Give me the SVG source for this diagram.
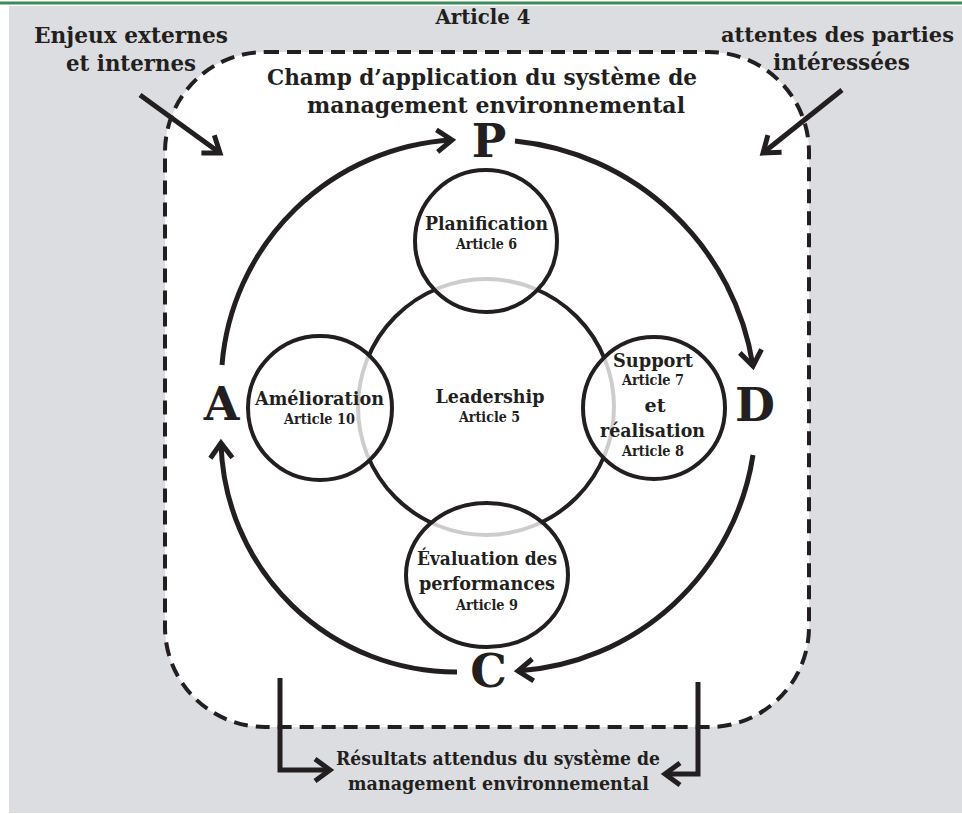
<svg xmlns="http://www.w3.org/2000/svg" width="962" height="814" viewBox="0 0 962 814">
<style>
text{font-family:"DejaVu Serif","Liberation Serif",serif;font-weight:bold;fill:#231f20;}
.big{font-size:23px;}
.t{font-size:18.5px;}
.s{font-size:14px;}
.L{font-size:46px;}
.m{text-anchor:middle;}
.ring{fill:none;stroke:#231f20;stroke-width:4;}
.sm{fill:#fff;fill-opacity:0.78;stroke:#231f20;stroke-width:4;}
.con{fill:none;stroke:#231f20;stroke-width:5;marker-end:url(#ah);}
</style>
<defs>
<marker id="ah" markerUnits="userSpaceOnUse" viewBox="-22 -16 26 32" markerWidth="26" markerHeight="32" refX="0" refY="0" orient="auto" overflow="visible">
<path d="M-15,-11 L0,0 L-15,11" fill="none" stroke="#231f20" stroke-width="5" stroke-linejoin="miter"/>
</marker>
</defs>
<rect x="0" y="0" width="962" height="814" fill="#fff"/>
<rect x="0" y="1.5" width="962" height="3" fill="#3d8c56"/>
<rect x="9" y="6" width="953" height="807" fill="#dcdde0"/>

<g id="scope">
<rect x="165" y="52" width="644" height="675" rx="100" ry="100" fill="#fff" stroke="#231f20" stroke-width="4" stroke-dasharray="14 8"/>
</g>

<g id="labels">
<text class="big m" x="483" y="24" textLength="95" lengthAdjust="spacingAndGlyphs" style="font-size:21px">Article 4</text>
<text class="big" x="34" y="43" textLength="194" lengthAdjust="spacingAndGlyphs">Enjeux externes</text>
<text class="big" x="66" y="71" textLength="130" lengthAdjust="spacingAndGlyphs">et internes</text>
<text class="big" x="721" y="42" textLength="233" lengthAdjust="spacingAndGlyphs" style="font-size:21px">attentes des parties</text>
<text class="big" x="773" y="70" textLength="137" lengthAdjust="spacingAndGlyphs">intéressées</text>
<text class="big" x="267" y="85" textLength="430" lengthAdjust="spacingAndGlyphs">Champ d’application du système de</text>
<text class="big" x="307" y="113" textLength="378" lengthAdjust="spacingAndGlyphs">management environnemental</text>
<text class="t" x="336" y="765" textLength="324" lengthAdjust="spacingAndGlyphs">Résultats attendus du système de</text>
<text class="t" x="348" y="790" textLength="301" lengthAdjust="spacingAndGlyphs">management environnemental</text>
</g>

<g id="leadership">
<circle class="ring" cx="486" cy="407" r="128"/>
<text class="t m" x="490" y="403" textLength="109" lengthAdjust="spacingAndGlyphs">Leadership</text>
<text class="s m" x="489.5" y="422" textLength="61" lengthAdjust="spacingAndGlyphs">Article 5</text>
</g>

<g id="planification">
<circle class="sm" cx="486" cy="241" r="71"/>
<text class="t m" x="486.5" y="230" textLength="123" lengthAdjust="spacingAndGlyphs">Planification</text>
<text class="s m" x="486.5" y="249" textLength="61" lengthAdjust="spacingAndGlyphs">Article 6</text>
</g>

<g id="support">
<circle class="sm" cx="654" cy="408" r="71"/>
<text class="t m" x="653" y="367" textLength="80" lengthAdjust="spacingAndGlyphs">Support</text>
<text class="s m" x="653" y="385" textLength="62" lengthAdjust="spacingAndGlyphs">Article 7</text>
<text class="t m" x="655" y="412" textLength="21" lengthAdjust="spacingAndGlyphs">et</text>
<text class="t m" x="652.5" y="437" textLength="105" lengthAdjust="spacingAndGlyphs">réalisation</text>
<text class="s m" x="653" y="456" textLength="62" lengthAdjust="spacingAndGlyphs">Article 8</text>
</g>

<g id="amelioration">
<circle class="sm" cx="320" cy="408" r="72"/>
<text class="t m" x="319.5" y="405" textLength="129" lengthAdjust="spacingAndGlyphs">Amélioration</text>
<text class="s m" x="319.5" y="424" textLength="71" lengthAdjust="spacingAndGlyphs">Article 10</text>
</g>

<g id="evaluation">
<ellipse class="sm" cx="487" cy="575" rx="81" ry="72"/>
<text class="t m" x="487" y="565" textLength="140" lengthAdjust="spacingAndGlyphs">Évaluation des</text>
<text class="t m" x="487" y="590" textLength="136" lengthAdjust="spacingAndGlyphs">performances</text>
<text class="s m" x="487" y="610" textLength="62" lengthAdjust="spacingAndGlyphs">Article 9</text>
</g>

<g id="pdca">
<text class="L m" x="489" y="157">P</text>
<text class="L m" x="221.5" y="420">A</text>
<text class="L m" x="755" y="421">D</text>
<text class="L m" x="488.5" y="687">C</text>
</g>

<g id="connectors">
<path class="con" d="M222,365 A245,245 0 0 1 452,140"/>
<path class="con" d="M515,141 A268,268 0 0 1 753,366"/>
<path class="con" d="M753,455 A255,255 0 0 1 518,671"/>
<path class="con" d="M457,672 A235,235 0 0 1 221,443"/>
<path class="con" d="M140,95 L220,153"/>
<path class="con" d="M842,90 L763,153"/>
<path class="con" d="M280,678 V770 H330"/>
<path class="con" d="M698,682 V774 H665"/>
</g>
</svg>
